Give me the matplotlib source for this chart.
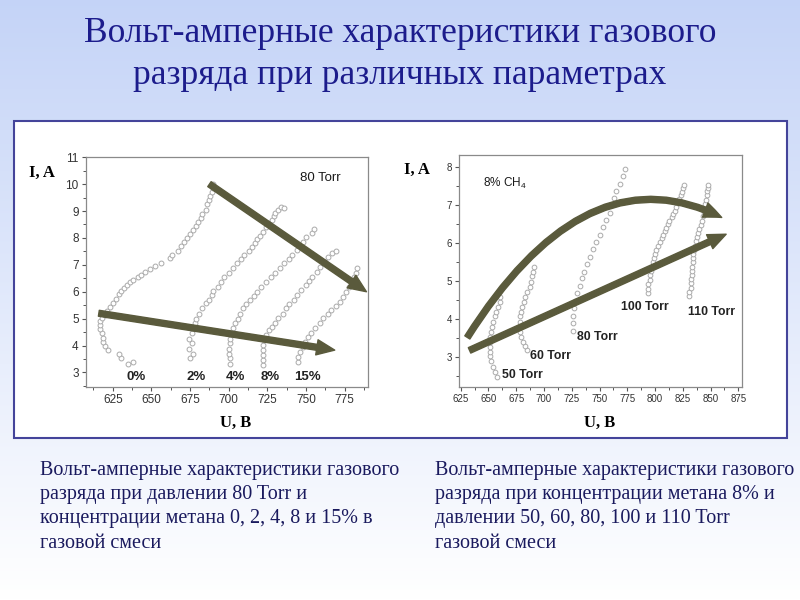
import numpy as np
import matplotlib
matplotlib.use("Agg")
import matplotlib.pyplot as plt
from matplotlib.patches import FancyArrowPatch, ArrowStyle, Rectangle
from matplotlib.path import Path
from matplotlib.ticker import MultipleLocator

# --- левый график: 80 Torr, разные концентрации метана ---
u_0 = [638, 635, 630, 629, 622, 620, 619, 619, 618, 617, 617, 617, 618, 620, 621, 623, 625, 627, 629, 630,
       632, 634, 636, 638, 641, 643, 646, 649, 652, 656, 662, 663, 667, 669, 671, 673, 675, 677, 679, 680,
       682, 683, 685, 686, 687, 688, 689, 690, 690]
i_0 = [3.4, 3.3, 3.55, 3.7, 3.85, 4.0, 4.12, 4.28, 4.45, 4.6, 4.75, 4.9, 5.02, 5.15, 5.3, 5.45, 5.6, 5.72, 5.9, 6.02,
       6.15, 6.25, 6.35, 6.45, 6.55, 6.62, 6.75, 6.85, 6.95, 7.05, 7.25, 7.38, 7.5, 7.7, 7.85, 8.0, 8.15, 8.3, 8.45, 8.6,
       8.75, 8.9, 9.05, 9.25, 9.4, 9.55, 9.7, 9.85, 10.0]
u_2 = [675, 677, 674, 676, 674, 676, 677, 678, 679, 681, 683, 685, 687, 689, 690, 693, 695, 697, 700, 703,
       705, 708, 710, 713, 715, 717, 718, 720, 722, 724, 726, 728, 729, 730, 732, 734, 736]
i_2 = [3.52, 3.7, 3.89, 4.08, 4.26, 4.45, 4.64, 4.82, 5.0, 5.19, 5.38, 5.57, 5.71, 5.88, 6.04, 6.19, 6.37, 6.53, 6.68, 6.87,
       7.05, 7.2, 7.36, 7.51, 7.67, 7.82, 7.95, 8.08, 8.23, 8.39, 8.54, 8.67, 8.82, 8.94, 9.04, 9.16, 9.1]
u_4 = [701, 701, 700, 700, 701, 701, 702, 703, 704, 706, 707, 709, 711, 714, 716, 718, 721, 724, 727, 730,
       733, 736, 739, 741, 744, 746, 748, 750, 754, 755]
i_4 = [3.31, 3.52, 3.7, 3.89, 4.08, 4.26, 4.45, 4.64, 4.82, 5.0, 5.19, 5.38, 5.54, 5.69, 5.84, 6.0, 6.19, 6.37, 6.56, 6.71,
       6.87, 7.05, 7.2, 7.36, 7.55, 7.7, 7.86, 8.05, 8.2, 8.32]
u_8 = [722, 722, 722, 722, 722, 723, 724, 726, 728, 730, 732, 735, 737, 739, 742, 744, 747, 750, 752, 754,
       757, 759, 762, 764, 767, 769]
i_8 = [3.27, 3.46, 3.64, 3.83, 4.01, 4.2, 4.39, 4.57, 4.7, 4.85, 5.01, 5.19, 5.38, 5.54, 5.69, 5.88, 6.06, 6.25, 6.41, 6.56,
       6.74, 6.93, 7.12, 7.3, 7.43, 7.53]
u_15 = [745, 745, 746, 748, 749, 751, 753, 756, 759, 761, 764, 766, 769, 772, 774, 776, 778, 780, 781, 782, 783]
i_15 = [3.39, 3.58, 3.77, 3.95, 4.14, 4.3, 4.47, 4.67, 4.85, 5.01, 5.19, 5.32, 5.47, 5.63, 5.81, 6.0, 6.19, 6.37, 6.53,
        6.71, 6.87]

left_series = [(u_0, i_0), (u_2, i_2), (u_4, i_4), (u_8, i_8), (u_15, i_15)]
left_labels = ["0%", "2%", "4%", "8%", "15%"]
left_label_x = [640, 679, 704, 727, 751]

# --- правый график: 8% CH4, разные давления ---
u_50 = [658, 656, 654, 652, 651, 651, 651, 651, 651, 652, 653, 654, 656, 657, 659, 660, 660]
i_50 = [2.48, 2.62, 2.75, 2.89, 3.02, 3.15, 3.28, 3.41, 3.54, 3.67, 3.8, 3.93, 4.07, 4.2, 4.33, 4.46, 4.59]
u_60 = [685, 683, 681, 679, 678, 678, 678, 678, 679, 680, 682, 683, 685, 687, 688, 689, 690, 691]
i_60 = [3.19, 3.3, 3.41, 3.54, 3.67, 3.8, 3.93, 4.07, 4.2, 4.33, 4.46, 4.59, 4.72, 4.85, 4.98, 5.12, 5.25, 5.38]
u_80 = [726, 726, 726, 727, 728, 730, 732, 734, 736, 739, 741, 744, 747, 750, 753, 756, 759, 761, 763, 765,
        768, 771, 773]
i_80 = [3.7, 3.89, 4.08, 4.28, 4.48, 4.68, 4.87, 5.07, 5.25, 5.45, 5.64, 5.83, 6.02, 6.22, 6.41, 6.6, 6.79, 6.99, 7.18,
        7.37, 7.56, 7.76, 7.93]
u_100 = [794, 794, 794, 795, 795, 796, 797, 798, 799, 800, 801, 803, 804, 806, 807, 809, 810, 812, 813, 815,
         816, 818, 819, 821, 822, 823, 824, 825, 826]
i_100 = [4.69, 4.8, 4.92, 5.03, 5.15, 5.27, 5.38, 5.5, 5.61, 5.72, 5.82, 5.92, 6.02, 6.12, 6.22, 6.31, 6.4, 6.49, 6.58,
         6.67, 6.76, 6.85, 6.95, 7.05, 7.15, 7.25, 7.35, 7.45, 7.52]
u_110 = [831, 831, 832, 832, 832, 833, 833, 833, 834, 834, 834, 835, 836, 837, 838, 839, 840, 841, 842, 843,
         844, 844, 845, 846, 847, 847, 848, 848]
i_110 = [4.61, 4.72, 4.83, 4.94, 5.05, 5.16, 5.27, 5.38, 5.49, 5.6, 5.71, 5.82, 5.93, 6.04, 6.15, 6.26, 6.37, 6.48,
         6.59, 6.7, 6.81, 6.92, 7.03, 7.14, 7.25, 7.36, 7.45, 7.52]

right_series = [(u_50, i_50), (u_60, i_60), (u_80, i_80), (u_100, i_100), (u_110, i_110)]
right_labels = ["50 Torr", "60 Torr", "80 Torr", "100 Torr", "110 Torr"]
right_label_pos = [(662, 2.54), (687, 3.04), (730, 3.54), (769, 4.33), (830, 4.2)]

# стрелки-тренды (начало, конец)
left_arrows = [((687.5, 10.0), (789, 6.0)), ((616, 5.2), (768.5, 3.83))]
right_curve = [(631, 3.52), (738, 8.46), (860, 6.67)]
right_line = ((633, 3.18), (864, 6.23))

title_lines = ["Вольт-амперные характеристики газового", "разряда при различных параметрах"]
caption_left = ["Вольт-амперные характеристики газового", "разряда при давлении 80 Torr и",
                "концентрации метана 0, 2, 4, 8 и 15% в", "газовой смеси"]
caption_right = ["Вольт-амперные характеристики газового", "разряда при концентрации метана 8% и",
                 "давлении 50, 60, 80, 100 и 110 Torr", "газовой смеси"]

SERIF = "Liberation Serif"
SANS = "Liberation Sans"
ARROW = "#5a5a3c"
arrow_style = ArrowStyle.Simple(head_length=13, head_width=11, tail_width=4.3)

plt.rcParams["mathtext.fontset"] = "custom"
plt.rcParams["mathtext.rm"] = SANS
plt.rcParams["mathtext.it"] = SANS

fig = plt.figure(figsize=(8, 6), dpi=100)

# фон - вертикальный градиент
bg = fig.add_axes([0, 0, 1, 1], zorder=-10)
grad = np.linspace(0, 1, 256).reshape(-1, 1)
top = np.array([0.77, 0.83, 0.97])
rgb = top[None, None, :] * (1 - grad[:, :, None]) + np.ones(3)[None, None, :] * grad[:, :, None]
bg.imshow(rgb, aspect="auto", extent=[0, 1, 0, 1], origin="upper")
bg.set_xlim(0, 1)
bg.set_ylim(0, 1)
bg.axis("off")
bg.add_patch(Rectangle((14 / 800, 1 - 438 / 600), 773 / 800, 317 / 600, facecolor="white",
                       edgecolor="#44449a", linewidth=1.5))

for k, line in enumerate(title_lines):
    fig.text(0.5, 1 - (34 + 42 * k) / 600, line, ha="center", va="center", fontsize=25.5,
             family=SERIF, color="#1c1c8c")

for k in range(4):
    fig.text(40 / 800, 1 - (471 + 24 * k) / 600, caption_left[k], ha="left", va="center",
             fontsize=14.5, family=SERIF, color="#1a1a5e")
    fig.text(435 / 800, 1 - (471 + 24 * k) / 600, caption_right[k], ha="left", va="center",
             fontsize=14.5, family=SERIF, color="#1a1a5e")


def style_axes(ax, xmaj, ymaj, size):
    for sp in ax.spines.values():
        sp.set_color("#8a8a8a")
        sp.set_linewidth(0.9)
    ax.xaxis.set_major_locator(MultipleLocator(xmaj))
    ax.xaxis.set_minor_locator(MultipleLocator(xmaj / 2))
    ax.yaxis.set_major_locator(MultipleLocator(ymaj))
    ax.yaxis.set_minor_locator(MultipleLocator(ymaj / 2))
    ax.tick_params(which="major", direction="out", length=3, width=0.8, color="#555555",
                   labelsize=size, labelcolor="#333333", pad=2)
    ax.tick_params(which="minor", direction="out", length=2, width=0.7, color="#555555")
    for lab in ax.get_xticklabels() + ax.get_yticklabels():
        lab.set_family(SANS)


def draw_points(ax, series, ms):
    for u, i in series:
        ax.plot(u, i, linestyle="none", marker="o", markersize=ms, markerfacecolor="white",
                markeredgecolor="#aaaaaa", markeredgewidth=0.7, zorder=2)


# левый график
ax1 = fig.add_axes([85.7 / 800, 1 - 386.7 / 600, 282.6 / 800, 230 / 600])
draw_points(ax1, left_series, 3.5)
ax1.set_xlim(607.5, 790.2)
ax1.set_ylim(2.47, 11.02)
style_axes(ax1, 25, 1, 8.5)
for lab, x in zip(left_labels, left_label_x):
    ax1.text(x, 2.82, lab, ha="center", va="center", fontsize=9.5, fontweight="bold", family=SANS, color="#222222")
ax1.text(759, 10.22, "80 Torr", ha="center", va="center", fontsize=9.5, family=SANS, color="#1a1a1a")
for a, b in left_arrows:
    ax1.add_patch(FancyArrowPatch(a, b, arrowstyle=arrow_style, mutation_scale=1, color=ARROW,
                                  shrinkA=0, shrinkB=0, zorder=3))

# правый график
ax2 = fig.add_axes([459 / 800, 1 - 387.3 / 600, 282.7 / 800, 232.3 / 600])
draw_points(ax2, right_series, 3.4)
ax2.set_xlim(623.5, 878)
ax2.set_ylim(2.21, 8.31)
style_axes(ax2, 25, 1, 7)
for lab, (x, y) in zip(right_labels, right_label_pos):
    ax2.text(x, y, lab, ha="left", va="center", fontsize=8.8, fontweight="bold", family=SANS, color="#222222")
ax2.text(645, 7.57, "8% CH$_4$", ha="left", va="center", fontsize=8.5, family=SANS, color="#1a1a1a")
curve = Path(right_curve, [Path.MOVETO, Path.CURVE3, Path.CURVE3])
ax2.add_patch(FancyArrowPatch(path=curve, arrowstyle=arrow_style, mutation_scale=1, color=ARROW, zorder=3))
ax2.add_patch(FancyArrowPatch(right_line[0], right_line[1], arrowstyle=arrow_style, mutation_scale=1,
                              color=ARROW, shrinkA=0, shrinkB=0, zorder=3))

# подписи осей
for x, y, t in [(42, 173, "I, A"), (236, 423, "U, B"), (417, 170, "I, A"), (600, 423, "U, B")]:
    fig.text(x / 800, 1 - y / 600, t, ha="center", va="center", fontsize=12, fontweight="bold",
             family=SERIF, color="black")

fig.savefig("out.png", dpi=100)
